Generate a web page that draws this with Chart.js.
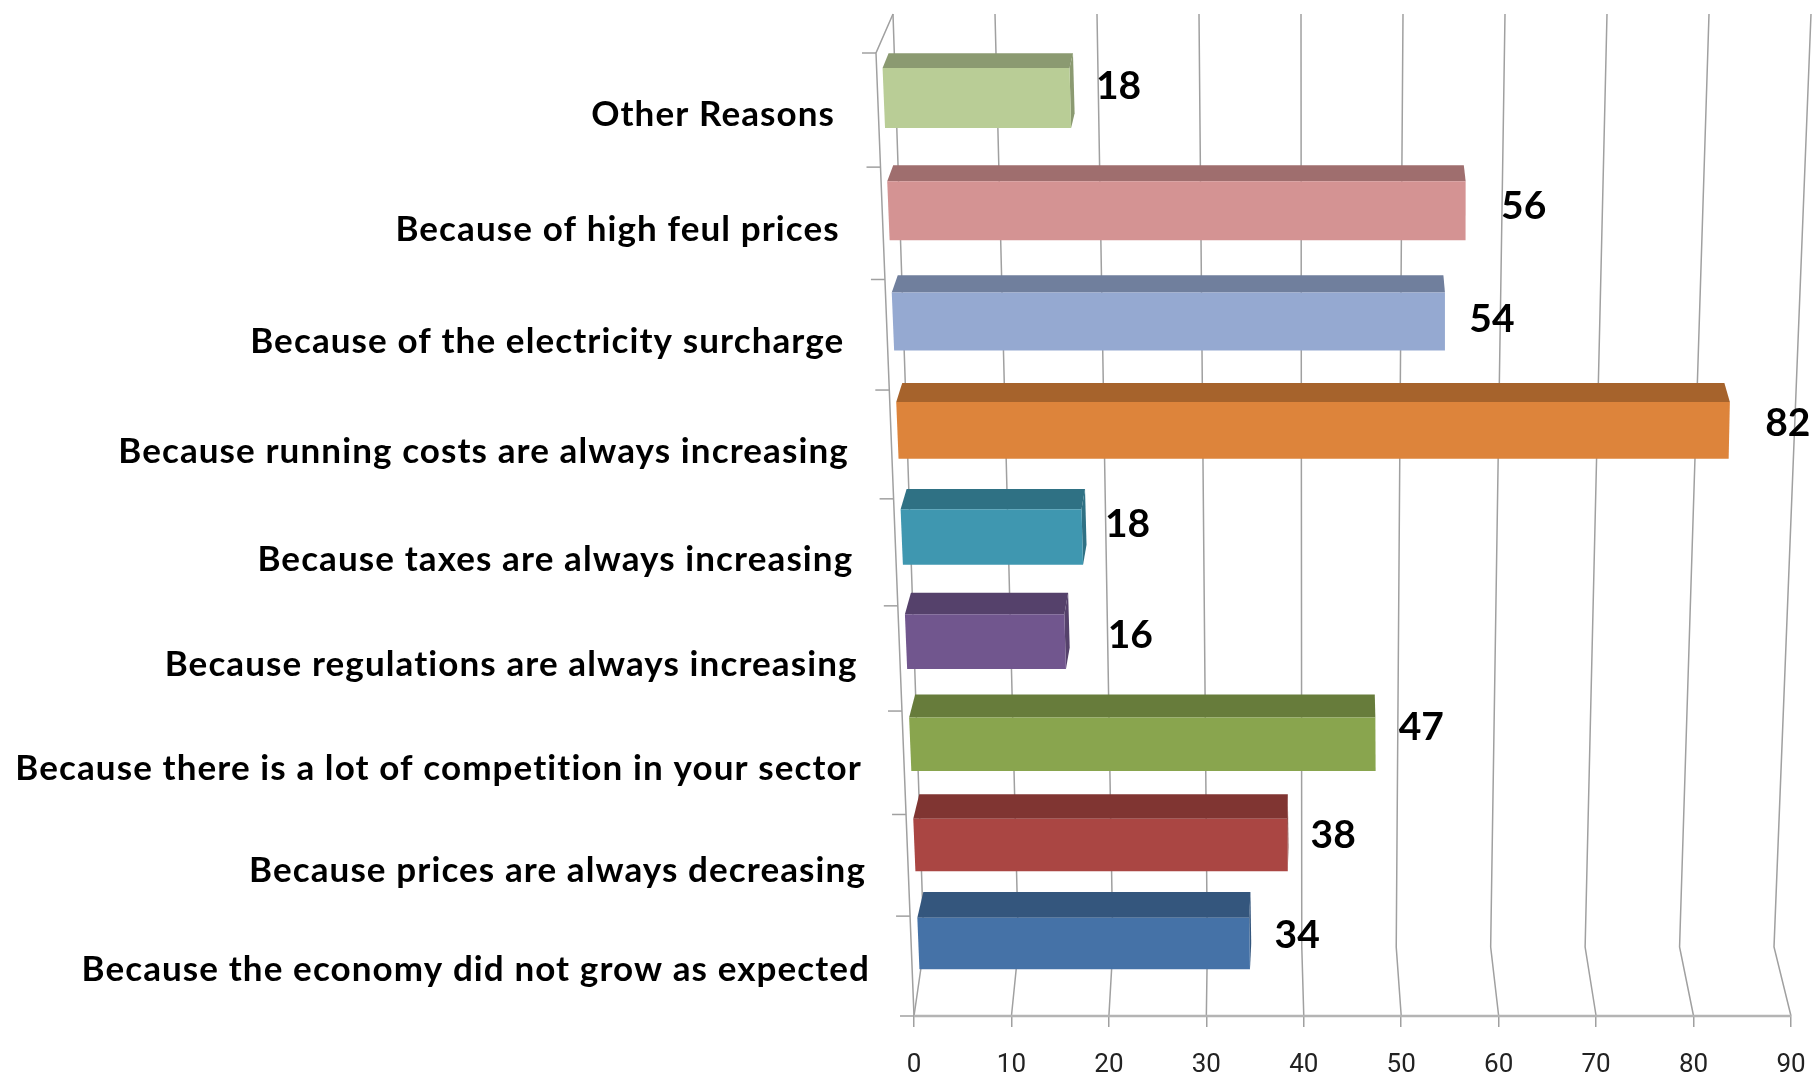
<!DOCTYPE html>
<html>
<head>
<meta charset="utf-8">
<title>Reasons</title>
<script src="https://cdn.jsdelivr.net/npm/chart.js@4"></script>
<style>
  html, body { margin: 0; padding: 0; background: #fff; }
  canvas { display: block; filter: blur(0.5px); }
</style>
</head>
<body>
<canvas id="reasonsChart" width="1814" height="1077"></canvas>
<script>
const categories = [
  "Other Reasons",
  "Because of high feul prices",
  "Because of the electricity surcharge",
  "Because running costs are always increasing",
  "Because taxes are always increasing",
  "Because regulations are always increasing",
  "Because there is a lot of competition in your sector",
  "Because prices are always decreasing",
  "Because the economy did not grow as expected",
];
const values = [18, 56, 54, 82, 18, 16, 47, 38, 34];
const xTicks = [0, 10, 20, 30, 40, 50, 60, 70, 80, 90];

const barColors = [
  "#B9CD96", "#D49393", "#95A9D1", "#DD843B", "#3F97B0",
  "#71568E", "#89A54E", "#AA4643", "#4572A7",
];
// hand placed data labels in the original, offset from the bar's front end
const labelNudge = [
  [49, -12], [58, -4], [47, -2], [58, -7], [46, -13],
  [66, -6], [46, -17], [46, -9], [48, -8],
];

const GRID = "#a0a0a0";
const FLOOR_BACK_Y = 947;
const TOP_Y = 14;

function shade(hex, k) {
  const n = parseInt(hex.slice(1), 16);
  const r = Math.round(((n >> 16) & 255) * k);
  const g = Math.round(((n >> 8) & 255) * k);
  const b = Math.round((n & 255) * k);
  return `rgb(${r}, ${g}, ${b})`;
}

function fraction(chart, py) {
  const area = chart.chartArea;
  return (py - area.top) / (area.bottom - area.top);
}

// tilted view: the plane of the bars is squeezed towards the floor
function barPlaneY(t) {
  return 40.85 + 1033.6 * t - 82.4 * t * t;
}

function wallY(chart, t) {
  const area = chart.chartArea;
  const h = area.bottom - area.top;
  return area.top + h * (1.075 * t - 0.075 * t * t);
}

// scale pixel + screen y -> screen x on the plane of the bars
function barPlaneX(chart, px, y) {
  const left = chart.chartArea.left;
  const origin = 883 + (y - 98) * 0.04095;
  const stretch = 1 + ((969 - y) / 871) * 0.068;
  return origin + (px - left) * stretch;
}

function polygon(ctx, points, fill) {
  ctx.beginPath();
  points.forEach((p, i) => (i ? ctx.lineTo(p[0], p[1]) : ctx.moveTo(p[0], p[1])));
  ctx.closePath();
  ctx.fillStyle = fill;
  ctx.fill();
}

const wallsPlugin = {
  id: "walls",
  beforeDatasetsDraw(chart) {
    const ctx = chart.ctx;
    const xScale = chart.scales.x;
    const area = chart.chartArea;
    const left = area.left;
    const span = area.right - left;
    ctx.save();
    ctx.strokeStyle = GRID;
    ctx.lineWidth = 1.5;
    xScale.ticks.forEach((tick) => {
      const px = xScale.getPixelForValue(tick.value);
      const backX = 924 + ((px - left) / span) * 850;
      const topX = 893 + ((px - left) / span) * 918;
      ctx.beginPath();
      ctx.moveTo(px, area.bottom);
      ctx.lineTo(backX, FLOOR_BACK_Y);
      ctx.lineTo(topX, TOP_Y);
      ctx.stroke();
    });

    // front edge of the side wall and its ticks
    const edgeX = (y) => left - ((area.bottom - y) / (area.bottom - area.top)) * 38;
    ctx.beginPath();
    ctx.moveTo(left, area.bottom);
    ctx.lineTo(edgeX(area.top), area.top);
    ctx.lineTo(893, TOP_Y);
    ctx.stroke();
    for (let i = 0; i <= categories.length; i++) {
      const y = wallY(chart, i / categories.length);
      ctx.beginPath();
      ctx.moveTo(edgeX(y), y);
      ctx.lineTo(edgeX(y) - 14, y);
      ctx.stroke();
    }

    // floor line
    ctx.strokeStyle = "#b4b4b4";
    ctx.lineWidth = 2.5;
    ctx.beginPath();
    ctx.moveTo(left, area.bottom);
    ctx.lineTo(area.right, area.bottom);
    ctx.stroke();
    ctx.restore();
  },
  beforeDatasetDraw() {
    return false; // bars are drawn as boxes below
  },
  afterDatasetsDraw(chart) {
    const ctx = chart.ctx;
    const meta = chart.getDatasetMeta(0);
    ctx.save();
    meta.data.forEach((bar, i) => {
      const t = fraction(chart, bar.y);
      const half = bar.height / 2;
      const frontTop = barPlaneY(fraction(chart, bar.y - half));
      const frontBottom = barPlaneY(fraction(chart, bar.y + half));
      const depth = 14 + 12.4 * t;
      const yBack = frontTop - depth;

      const xl = barPlaneX(chart, bar.base, frontTop);
      const xlb = barPlaneX(chart, bar.base, frontBottom);
      const xr = barPlaneX(chart, bar.x, frontTop);
      const xrb = barPlaneX(chart, bar.x, frontBottom);
      const backShift = 6 - 0.14 * values[i];

      const front = barColors[i];
      const dark = shade(front, 0.75);
      polygon(ctx, [[xl + 6, yBack], [xr + backShift, yBack], [xr, frontTop], [xl, frontTop]], dark);
      if (backShift > 0) {
        polygon(ctx, [
          [xr, frontTop],
          [xr + backShift, yBack],
          [xrb + backShift, frontBottom - depth],
          [xrb, frontBottom],
        ], dark);
      }
      polygon(ctx, [[xl, frontTop], [xr, frontTop], [xrb, frontBottom], [xlb, frontBottom]], front);

      // value label
      const mid = (frontTop + frontBottom) / 2;
      ctx.fillStyle = "#000";
      ctx.font = "bold 39px Lato";
      ctx.letterSpacing = "0px";
      ctx.textAlign = "center";
      ctx.textBaseline = "middle";
      ctx.fillText(String(values[i]), xr + labelNudge[i][0], mid + labelNudge[i][1]);

      // category label, right aligned along the tilted edge
      const labelY = mid + 16.5 + 14 * t - 4 * t * t;
      const labelX = 835 + ((labelY - 113) * 35) / 855;
      ctx.font = "bold 35px Lato";
      ctx.letterSpacing = "1.1px";
      ctx.textAlign = "right";
      ctx.fillText(chart.data.labels[i], labelX, labelY);
    });
    ctx.restore();
  },
};

new Chart(document.getElementById("reasonsChart").getContext("2d"), {
  type: "bar",
  data: {
    labels: categories,
    datasets: [
      {
        data: values,
        backgroundColor: barColors,
        barPercentage: 0.527,
        categoryPercentage: 1,
      },
    ],
  },
  options: {
    indexAxis: "y",
    responsive: false,
    animation: false,
    layout: { padding: { left: 914, right: 23, top: 53, bottom: 0 } },
    plugins: {
      legend: { display: false },
      title: { display: false },
      tooltip: { enabled: false },
    },
    scales: {
      x: {
        min: 0,
        max: 90,
        afterBuildTicks: (axis) => {
          axis.ticks = xTicks.map((v) => ({ value: v }));
        },
        afterFit: (axis) => {
          axis.height = 61;
          axis.paddingLeft = 0;
          axis.paddingRight = 0;
        },
        border: { display: false },
        grid: {
          drawOnChartArea: false,
          drawTicks: true,
          tickLength: 11,
          color: GRID,
          lineWidth: 1.5,
        },
        ticks: {
          maxRotation: 0,
          autoSkip: false,
          padding: 23,
          color: "#222",
          font: { family: "Roboto", size: 26 },
        },
      },
      y: { display: false },
    },
  },
  plugins: [wallsPlugin],
});
</script>
</body>
</html>
